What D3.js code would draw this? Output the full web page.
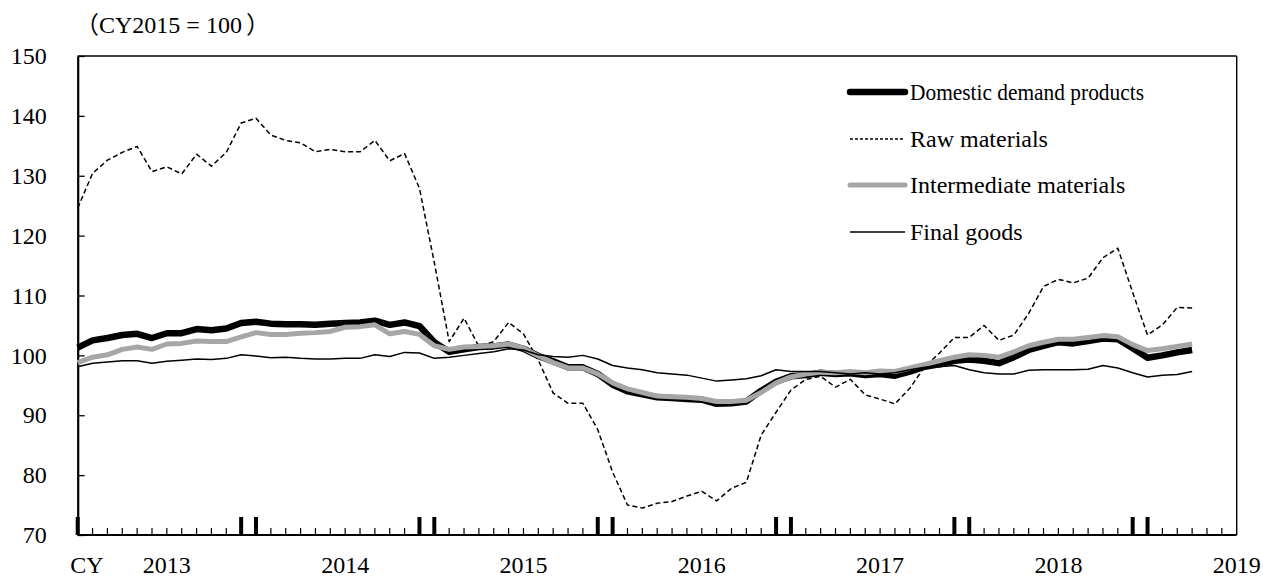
<!DOCTYPE html>
<html>
<head>
<meta charset="utf-8">
<script src="https://cdn.jsdelivr.net/npm/d3@7/dist/d3.min.js"></script>
<style>
  html, body { margin: 0; padding: 0; background: #fff; }
  svg text { font-family: "Liberation Serif", "Times New Roman", serif; fill: #000; }
  .cjk { font-family: "Noto Sans CJK JP", "Noto Sans CJK SC", sans-serif; }
</style>
</head>
<body>
<svg id="chart" width="1263" height="578"></svg>
<script>
// ---- Data (monthly, Jan 2013 – Apr 2019) ----
const startYear = 2013;
const yearLabels = ["2013", "2014", "2015", "2016", "2017", "2018", "2019"];
const yTicks = [70, 80, 90, 100, 110, 120, 130, 140, 150];

const domesticDemand = [
  101.3, 102.5, 102.9, 103.4, 103.6, 102.9, 103.7, 103.7, 104.4, 104.2, 104.5, 105.4,
  105.6, 105.3, 105.2, 105.2, 105.1, 105.3, 105.4, 105.5, 105.8, 105.1, 105.5, 104.9,
  102.2, 100.6, 101.0, 101.4, 101.5, 101.8, 101.1, 99.9, 99.0, 98.0, 98.0, 96.9,
  95.1, 94.0, 93.5, 93.0, 92.9, 92.7, 92.6, 91.9, 92.0, 92.3, 94.1, 95.6,
  96.5, 96.7, 97.1, 96.9, 97.0, 96.7, 96.9, 96.6, 97.3, 98.1, 98.5, 99.1,
  99.3, 99.1, 98.7, 99.7, 100.9, 101.6, 102.2, 102.0, 102.4, 102.8, 102.7, 101.2,
  99.6, 100.0, 100.5, 100.9
];
const rawMaterials = [
  124.6, 130.4, 132.6, 133.9, 134.9, 130.7, 131.5, 130.3, 133.6, 131.6, 133.9, 138.8,
  139.6, 136.8, 135.9, 135.5, 134.0, 134.4, 134.0, 134.0, 135.9, 132.5, 133.7, 127.9,
  115.5, 102.3, 106.2, 101.5, 102.3, 105.5, 103.6, 99.2, 93.7, 92.0, 92.0, 87.6,
  80.5, 75.0, 74.5, 75.3, 75.6, 76.5, 77.3, 75.7, 77.8, 78.8, 86.7, 90.5,
  94.2, 96.0, 96.5, 94.7, 96.0, 93.4, 92.7, 91.9, 94.5, 98.1, 100.4, 103.0,
  103.0, 105.0, 102.5, 103.4, 107.0, 111.5, 112.7, 112.1, 112.9, 116.3, 117.9, 110.5,
  103.4, 105.1, 108.0, 107.9
];
const intermediateMaterials = [
  98.8, 99.7, 100.1, 101.0, 101.4, 101.0, 101.9, 102.0, 102.4, 102.3, 102.3, 103.1,
  103.8, 103.5, 103.5, 103.7, 103.8, 104.0, 104.7, 104.8, 105.1, 103.6, 104.0, 103.5,
  101.6, 101.0, 101.4, 101.5, 101.6, 101.9, 101.2, 99.9, 98.8, 97.9, 97.9, 96.9,
  95.4, 94.4, 93.8, 93.2, 93.1, 93.0, 92.8, 92.3, 92.3, 92.5, 93.8, 95.4,
  96.4, 96.9, 97.2, 97.1, 97.3, 97.1, 97.4, 97.3, 97.9, 98.5, 99.1, 99.7,
  100.1, 100.0, 99.7, 100.6, 101.6, 102.2, 102.7, 102.7, 103.0, 103.3, 103.1, 101.8,
  100.8, 101.1, 101.5, 101.9
];
const finalGoods = [
  98.1, 98.7, 98.9, 99.1, 99.1, 98.7, 99.0, 99.2, 99.4, 99.3, 99.5, 100.1,
  99.9, 99.6, 99.7, 99.5, 99.4, 99.4, 99.5, 99.5, 100.1, 99.8, 100.5, 100.4,
  99.5, 99.7, 100.0, 100.3, 100.6, 101.1, 100.9, 100.1, 99.8, 99.7, 100.0, 99.4,
  98.3, 97.9, 97.6, 97.1, 96.9, 96.7, 96.2, 95.7, 95.9, 96.1, 96.6, 97.6,
  97.3, 97.3, 97.3, 97.1, 96.9, 97.1, 96.9, 97.1, 97.6, 98.0, 98.1, 98.3,
  97.6, 97.1, 96.9, 96.9, 97.5, 97.6, 97.6, 97.6, 97.7, 98.3, 97.9, 97.1,
  96.4, 96.7, 96.8, 97.3
];

const seriesNames = ["Domestic demand products", "Raw materials", "Intermediate materials", "Final goods"];

// ---- Layout ----
const svg = d3.select("#chart");
const pLeft = 77.7, pRight = 1236.7, pTop = 56, pBottom = 535;
const totalMonths = 78; // Jan 2013 .. Jul 2019 (axis end)

const x = d3.scaleLinear().domain([0, totalMonths]).range([pLeft, pRight]);
const y = d3.scaleLinear().domain([70, 150]).range([pBottom, pTop]);

// frame (top & right)
svg.append("line").attr("x1", pLeft).attr("x2", pRight).attr("y1", pTop).attr("y2", pTop)
  .attr("stroke", "#000").attr("stroke-width", 1.6);
svg.append("line").attr("x1", pRight).attr("x2", pRight).attr("y1", pTop).attr("y2", pBottom)
  .attr("stroke", "#000").attr("stroke-width", 1.4);

// Y axis
const yAxis = d3.axisLeft(y).tickValues(yTicks).tickSizeInner(-7).tickSizeOuter(0).tickPadding(31);
const gy = svg.append("g").attr("transform", `translate(${pLeft},0)`).call(yAxis);
gy.attr("font-family", null).attr("font-size", null);
gy.select(".domain").attr("stroke-width", 2.2);
gy.selectAll(".tick line").attr("stroke-width", 1.3);
gy.selectAll(".tick text").style("font-size", "24px");

// X axis: month ticks
const monthIdx = d3.range(0, totalMonths);
const gx = svg.append("g");
gx.append("line").attr("x1", pLeft).attr("x2", pRight).attr("y1", pBottom).attr("y2", pBottom)
  .attr("stroke", "#000").attr("stroke-width", 2);
gx.selectAll("line.mt").data(monthIdx).join("line")
  .attr("class", "mt")
  .attr("x1", d => x(d)).attr("x2", d => x(d))
  .attr("y1", pBottom)
  .attr("y2", d => (d % 12 === 0 || d % 12 === 11) ? pBottom - 18 : pBottom - 7)
  .attr("stroke", "#000")
  .attr("stroke-width", d => (d % 12 === 0 || d % 12 === 11) ? 4 : 1.2);

// year labels (centred on each year span)
gx.selectAll("text.yl").data(yearLabels).join("text")
  .attr("class", "yl")
  .attr("x", (d, i) => x(i * 12 + 6))
  .attr("y", 573)
  .attr("text-anchor", "middle")
  .style("font-size", "24px")
  .text(d => d);
svg.append("text").attr("x", 87).attr("y", 573).attr("text-anchor", "middle")
  .style("font-size", "24px").text("CY");

// unit label
const unit = svg.append("text").attr("x", 75).attr("y", 33).style("font-size", "24px");
unit.append("tspan").attr("class", "cjk").text("（");
unit.append("tspan").text("CY2015 = 100");
unit.append("tspan").attr("class", "cjk").attr("dx", 4).text("）");

// ---- Lines ----
const line = d3.line().x((d, i) => x(i)).y(d => y(d));
const styles = [
  { data: domesticDemand, stroke: "#000", width: 6.5, dash: null },
  { data: rawMaterials, stroke: "#000", width: 1.5, dash: "5,3" },
  { data: intermediateMaterials, stroke: "#a6a6a6", width: 5, dash: null },
  { data: finalGoods, stroke: "#000", width: 1.5, dash: null }
];
styles.forEach(s => {
  svg.append("path").datum(s.data)
    .attr("d", line)
    .attr("fill", "none")
    .attr("stroke", s.stroke)
    .attr("stroke-width", s.width)
    .attr("stroke-linejoin", "round")
    .attr("stroke-dasharray", s.dash);
});

// ---- Legend ----
const legY = [92, 139, 185, 232];
const lg = svg.append("g");
styles.forEach((s, i) => {
  lg.append("line").attr("x1", 850).attr("x2", 905).attr("y1", legY[i]).attr("y2", legY[i])
    .attr("stroke", s.stroke).attr("stroke-width", s.width)
    .attr("stroke-linecap", i === 0 || i === 2 ? "round" : "butt")
    .attr("stroke-dasharray", s.dash ? "3,2" : null);
  const t = lg.append("text").attr("x", 910).attr("y", legY[i]).attr("dy", "0.35em")
    .style("font-size", "24px").text(seriesNames[i]);
  if (i === 0) t.attr("textLength", 234).attr("lengthAdjust", "spacingAndGlyphs");
});
</script>
</body>
</html>
